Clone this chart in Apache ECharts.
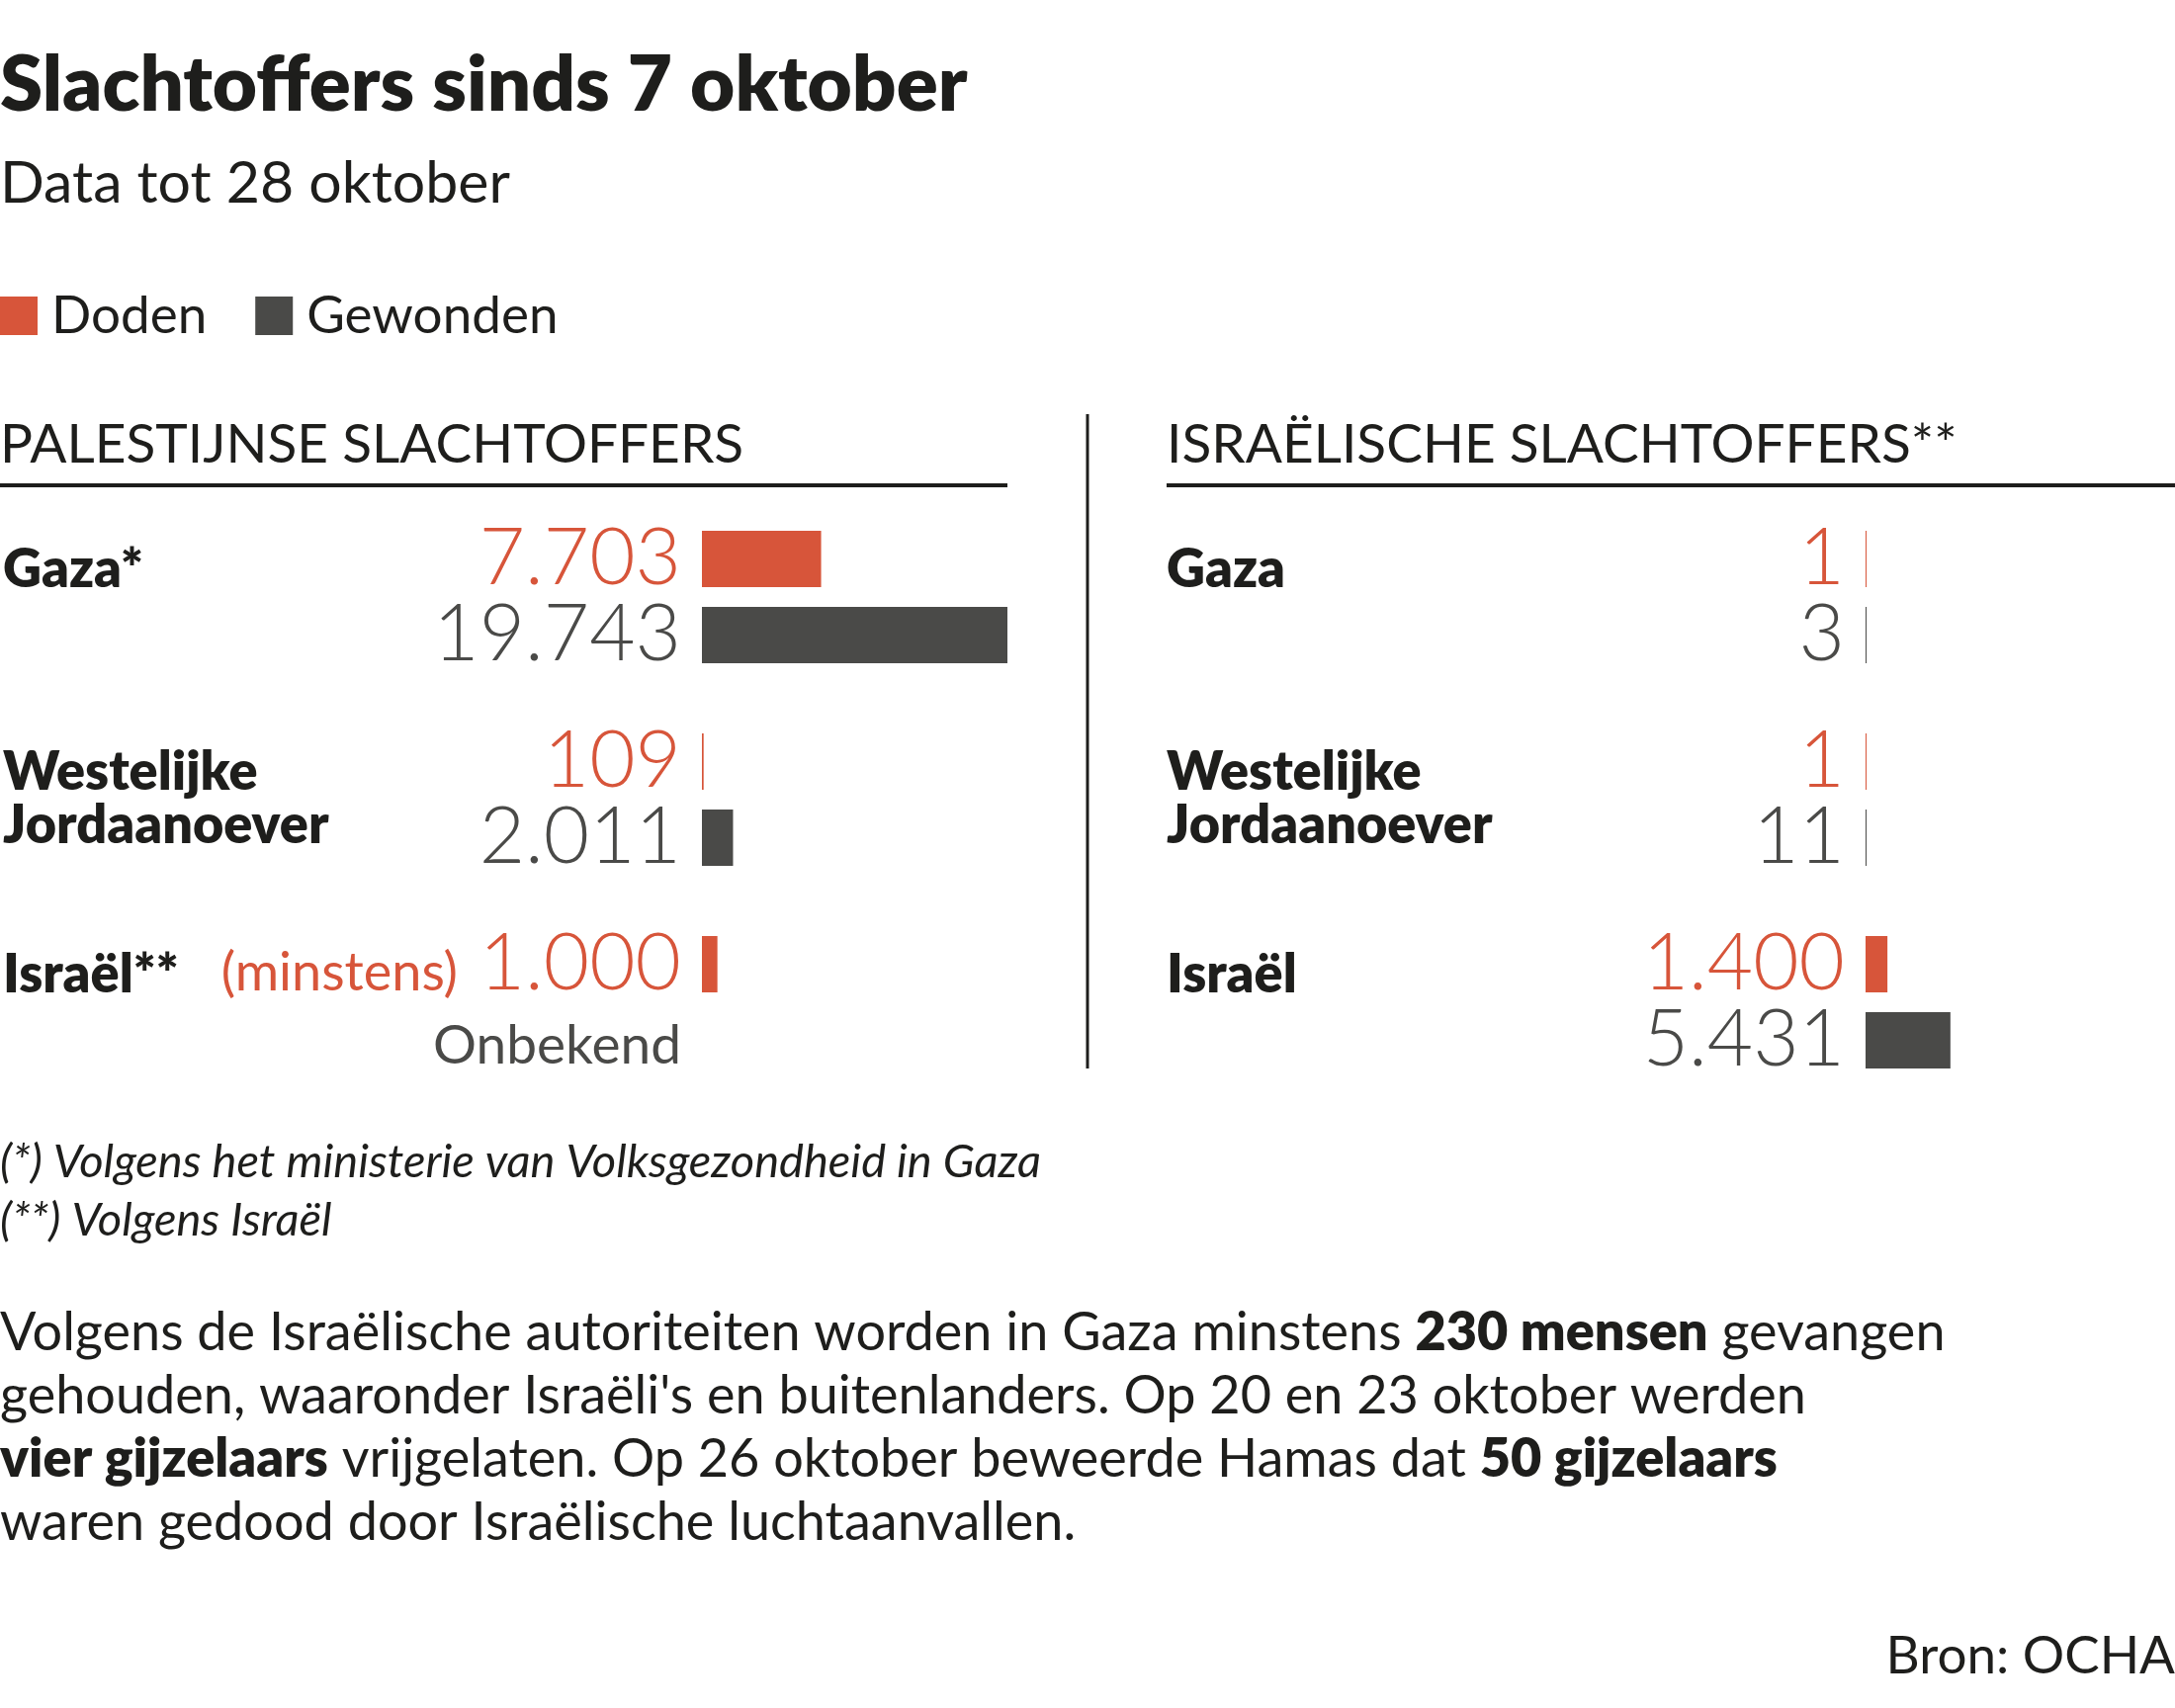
<!DOCTYPE html>
<html><head><meta charset="utf-8">
<script src="https://cdn.jsdelivr.net/npm/echarts@6/dist/echarts.min.js"></script>
<style>html,body{margin:0;padding:0;background:#fff}#c{width:2200px;height:1728px}</style>
</head><body><div id="c"></div>
<script>
// ---- data ----
const regionsPal = ['Gaza*', 'Westelijke\nJordaanoever', 'Israël**'];
const regionsIsr = ['Gaza', 'Westelijke\nJordaanoever', 'Israël'];
const dodenPal = [7703, 109, 1000];
const gewondenPal = [19743, 2011, null];
const qualifiersPal = ['', '', '(minstens)'];
const unknownLabel = 'Onbekend';
const dodenIsr = [1, 1, 1400];
const gewondenIsr = [3, 11, 5431];
const seriesNames = ['Doden', 'Gewonden'];
const panelTitles = ['PALESTIJNSE SLACHTOFFERS', 'ISRAËLISCHE SLACHTOFFERS**'];
const titleText = 'Slachtoffers sinds 7 oktober';
const subtitleText = 'Data tot 28 oktober';
const footnotes = ['(*) Volgens het ministerie van Volksgezondheid in Gaza', '(**) Volgens Israël'];
const paragraphLines = [
  'Volgens de Israëlische autoriteiten worden in Gaza minstens {b|230 mensen} gevangen',
  "gehouden, waaronder Israëli's en buitenlanders. Op 20 en 23 oktober werden",
  '{b|vier gijzelaars} vrijgelaten. Op 26 oktober beweerde Hamas dat {b|50 gijzelaars}',
  'waren gedood door Israëlische luchtaanvallen.'
];
const sourceText = 'Bron: OCHA';

// ---- style ----
const RED = '#d7553a', DARK = '#4a4a48', INK = '#1e1e1c';
const FONT = 'Lato, "Noto Sans", sans-serif';
const BAR_W = 57, BAR_GAP = 20;

function fmt(v) { return String(v).replace(/\B(?=(\d{3})+(?!\d))/g, '.'); }

const xMax = Math.max(...dodenPal, ...gewondenPal.filter(v => v != null), ...dodenIsr, ...gewondenIsr);

const chart = echarts.init(document.getElementById('c'), null, {renderer: 'canvas'});

function yAxisFor(idx, cats) {
  return {
    gridIndex: idx, type: 'category', inverse: true, data: cats,
    axisLine: {show: false}, axisTick: {show: false}, splitLine: {show: false},
    axisLabel: {
      margin: 707, align: 'left', fontFamily: FONT, fontWeight: 800, fontSize: 54,
      color: INK, lineHeight: 54,
      formatter: v => v.indexOf('\n') >= 0 ? v : v + '\n '
    }
  };
}

function numLabel(color, quals) {
  return {
    show: true, position: 'left', distance: 21,
    fontFamily: FONT, fontWeight: 300, fontSize: 80, color: color,
    formatter: p => {
      const q = quals ? quals[p.dataIndex] : '';
      return q ? '{p|' + q + '} {v|' + fmt(p.value) + '}' : fmt(p.value);
    },
    rich: {
      p: {fontFamily: FONT, fontWeight: 400, fontSize: 54, color: color, verticalAlign: 'bottom', lineHeight: 80, padding: [0, 0, 4, 0]},
      v: {fontFamily: FONT, fontWeight: 300, fontSize: 80, color: color, verticalAlign: 'bottom', lineHeight: 80}
    }
  };
}

function bar(name, data, gi, color, quals, minH) {
  return {
    name: name, type: 'bar', xAxisIndex: gi, yAxisIndex: gi, data: data,
    barWidth: BAR_W, barGap: (BAR_GAP / BAR_W * 100) + '%',
    barMinHeight: minH,
    itemStyle: {color: color}, label: numLabel(color, quals),
    emphasis: {disabled: true}
  };
}

const option = {
  animation: false,
  backgroundColor: '#fff',
  title: [
    {text: titleText, left: 0, top: 48, padding: 0,
     textStyle: {fontFamily: FONT, fontWeight: 800, fontSize: 78, lineHeight: 78, color: INK}},
    {text: subtitleText, left: 0, top: 157, padding: 0,
     textStyle: {fontFamily: FONT, fontWeight: 400, fontSize: 59, lineHeight: 58, color: INK}},
    {text: footnotes.join('\n'), left: 0, top: 1146, padding: 0,
     textStyle: {fontFamily: FONT, fontStyle: 'italic', fontWeight: 400, fontSize: 47, lineHeight: 59, color: INK}},
    {text: paragraphLines.join('\n'), left: 0, top: 1317, padding: 0,
     textStyle: {fontFamily: FONT, fontWeight: 400, fontSize: 54, lineHeight: 64, color: INK,
       rich: {b: {fontFamily: FONT, fontWeight: 800, fontSize: 54, lineHeight: 64, color: INK}}}},
    {text: sourceText, right: 0, top: 1644, padding: 0,
     textStyle: {fontFamily: FONT, fontWeight: 400, fontSize: 53, lineHeight: 64, color: INK}}
  ],
  legend: {
    left: 0, top: 293, padding: 0, icon: 'rect', itemWidth: 38, itemHeight: 39, itemGap: 49,
    selectedMode: false, data: seriesNames,
    textStyle: {fontFamily: FONT, fontSize: 53, lineHeight: 39, color: INK, padding: [0, 0, 0, 9]}
  },
  grid: [
    {left: 707, top: 501.5, width: 312, height: 615},
    {left: 1887, top: 501.5, width: 312, height: 615}
  ],
  xAxis: [
    {gridIndex: 0, type: 'value', min: 0, max: xMax, show: false, splitLine: {show: false}},
    {gridIndex: 1, type: 'value', min: 0, max: xMax, show: false, splitLine: {show: false}}
  ],
  yAxis: [yAxisFor(0, regionsPal), yAxisFor(1, regionsIsr)],
  series: [
    bar(seriesNames[0], dodenPal, 0, RED, qualifiersPal, 1),
    bar(seriesNames[1], gewondenPal, 0, DARK, null, 1),
    bar(seriesNames[0], dodenIsr, 1, RED, null, 1),
    bar(seriesNames[1], gewondenIsr, 1, DARK, null, 1)
  ]
};
chart.setOption(option);

// graphics depending on axis positions
const ptUnknown = chart.convertToPixel({gridIndex: 0}, [0, regionsPal[2]]);
const topY = 419, botY = 1081;
chart.setOption({
  graphic: [
    {type: 'line', shape: {x1: 1100, y1: topY, x2: 1100, y2: botY}, style: {stroke: INK, lineWidth: 3}, silent: true},
    {type: 'line', shape: {x1: 0, y1: 491, x2: 1019, y2: 491}, style: {stroke: INK, lineWidth: 4}, silent: true},
    {type: 'line', shape: {x1: 1180, y1: 491, x2: 2200, y2: 491}, style: {stroke: INK, lineWidth: 4}, silent: true},
    {type: 'text', x: 0, y: 450, silent: true,
     style: {text: panelTitles[0], fill: INK, fontFamily: FONT, fontSize: 55, fontWeight: 400,
       align: 'left', textAlign: 'left', verticalAlign: 'middle', textVerticalAlign: 'middle'}},
    {type: 'text', x: 1180, y: 450, silent: true,
     style: {text: panelTitles[1], fill: INK, fontFamily: FONT, fontSize: 55, fontWeight: 400,
       align: 'left', textAlign: 'left', verticalAlign: 'middle', textVerticalAlign: 'middle'}},
    {type: 'text', x: ptUnknown[0] - 21, y: ptUnknown[1] + (BAR_W + BAR_GAP) / 2 + 6, silent: true,
     style: {text: unknownLabel, fill: DARK, fontFamily: FONT, fontSize: 55, fontWeight: 400,
       align: 'right', textAlign: 'right', verticalAlign: 'middle', textVerticalAlign: 'middle'}}
  ]
});
</script></body></html>
